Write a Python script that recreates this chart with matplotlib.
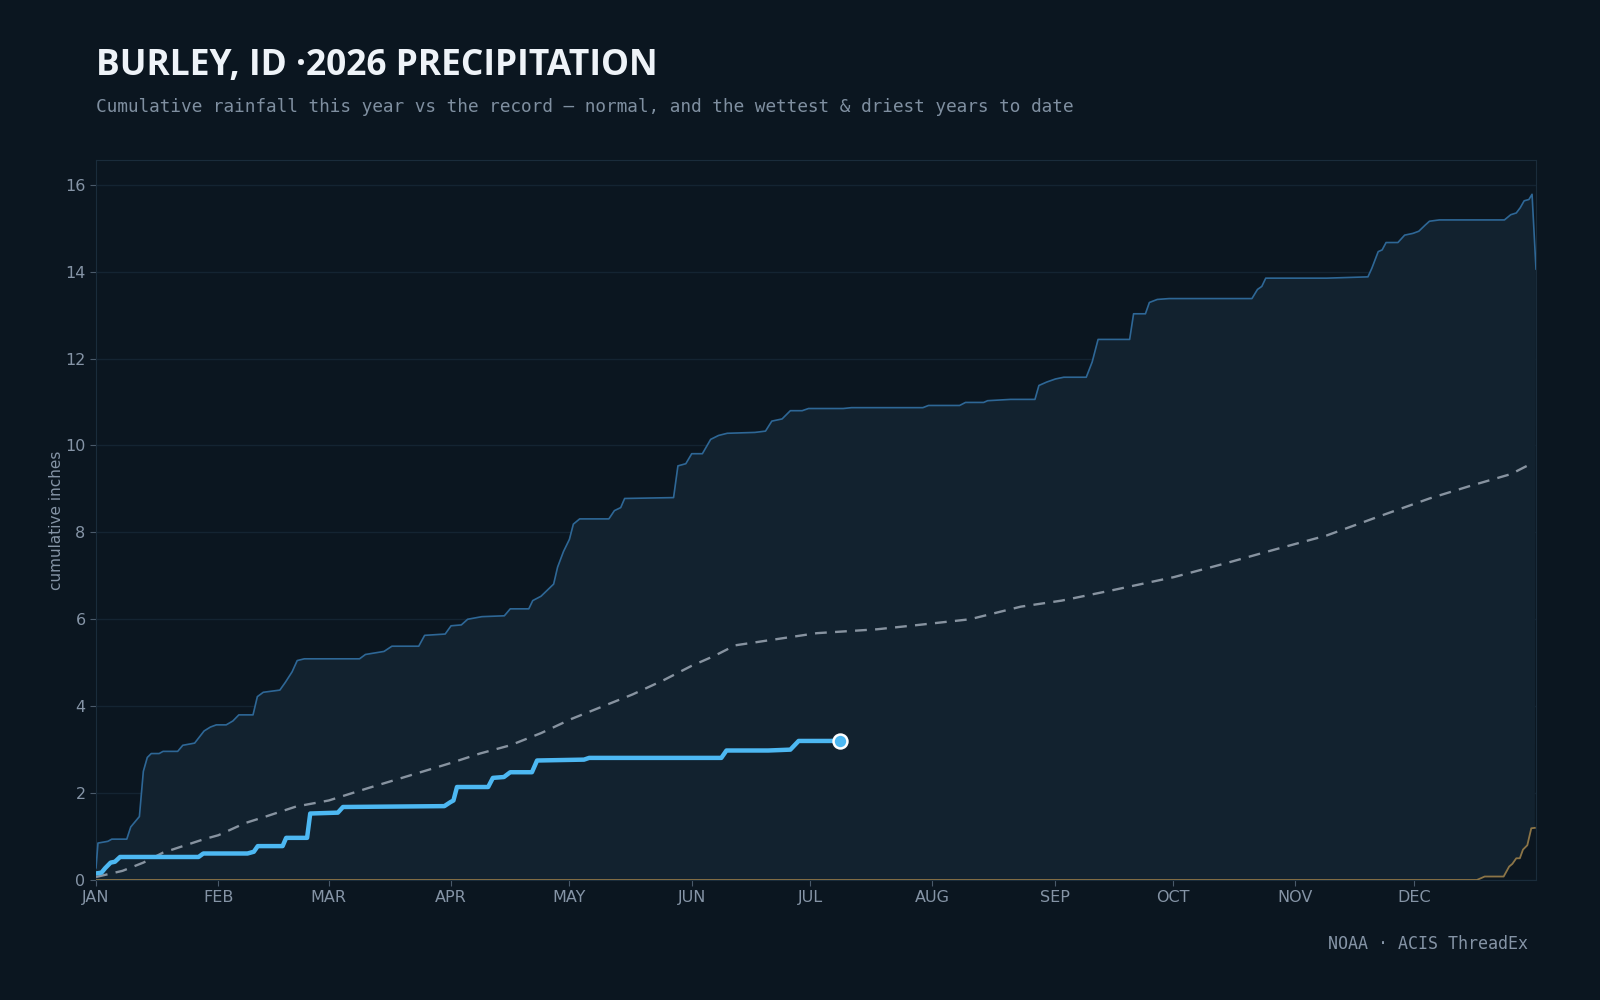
import matplotlib
matplotlib.use("Agg")
import matplotlib.pyplot as plt
import numpy as np

# day of year (0 = Jan 1) and cumulative inches
wet_day = [0, 0.5, 3, 4, 7.8, 8.8, 11, 12, 13, 14, 16, 17, 20.7, 22, 25, 27.4, 29, 30.5, 33, 34.7,
           36.2, 39.8, 40.9, 42.4, 46.6, 48, 49.7, 51, 52.8, 66.8, 68.3, 73, 75, 81.8, 83.3, 88.5,
           90, 92.6, 94.2, 97.8, 103.5, 105, 109.7, 110.7, 112.8, 114.4, 116, 117, 118.5, 120,
           121, 122.6, 130, 131.4, 133, 134, 146.4, 147.5, 149.5, 151, 153.7, 155.8, 157.8, 160,
           167, 169.7, 171.3, 173.9, 176, 179, 180.6, 189.4, 191.5, 209.6, 211, 218.9, 220.4, 225,
           226, 231.8, 238, 239, 241, 243.2, 245.3, 251, 252.5, 254, 262, 263, 266, 267, 269, 272,
           293, 294.4, 295.5, 296.5, 312, 322.4, 323.4, 325, 326, 327, 330, 331.7, 333.8, 335.3,
           336.9, 338, 340.5, 357, 358.6, 360, 361, 362, 363.2, 364, 365]
wet_val = [0.28, 0.85, 0.89, 0.94, 0.94, 1.22, 1.46, 2.5, 2.82, 2.91, 2.91, 2.96, 2.96, 3.1, 3.15,
           3.43, 3.52, 3.57, 3.57, 3.66, 3.8, 3.8, 4.22, 4.32, 4.37, 4.55, 4.79, 5.05, 5.09, 5.09,
           5.19, 5.26, 5.38, 5.38, 5.63, 5.66, 5.85, 5.87, 6.0, 6.06, 6.08, 6.24, 6.24, 6.43, 6.53,
           6.67, 6.81, 7.2, 7.56, 7.84, 8.19, 8.31, 8.31, 8.5, 8.57, 8.78, 8.8, 9.53, 9.58, 9.81,
           9.81, 10.14, 10.23, 10.28, 10.3, 10.33, 10.56, 10.61, 10.8, 10.8, 10.85, 10.85, 10.87,
           10.87, 10.92, 10.92, 10.99, 10.99, 11.03, 11.06, 11.06, 11.38, 11.46, 11.53, 11.57,
           11.57, 11.92, 12.44, 12.44, 13.03, 13.03, 13.29, 13.36, 13.38, 13.38, 13.59, 13.66,
           13.85, 13.85, 13.88, 14.08, 14.46, 14.5, 14.67, 14.67, 14.84, 14.88, 14.93, 15.07,
           15.16, 15.19, 15.19, 15.31, 15.35, 15.47, 15.63, 15.66, 15.78, 14.06]

normal_day = [0, 6.7, 12, 17, 27.4, 31, 37.8, 43, 50.7, 59, 68.8, 79, 89.5, 97.3, 105, 112.8,
              120.6, 128.3, 136, 143.9, 151, 156.8, 162, 172.3, 182.7, 198, 208.5, 221.5, 234.4,
              244.8, 257.7, 273.2, 286, 299, 312, 325, 338, 348, 358.6, 363.8]
normal_val = [0.07, 0.21, 0.4, 0.63, 0.94, 1.03, 1.31, 1.46, 1.69, 1.83, 2.11, 2.39, 2.68, 2.91,
              3.1, 3.38, 3.71, 3.99, 4.27, 4.6, 4.93, 5.16, 5.4, 5.54, 5.68, 5.77, 5.87, 6.0, 6.29,
              6.43, 6.67, 6.97, 7.28, 7.61, 7.93, 8.36, 8.78, 9.06, 9.34, 9.58]

dry_day = [0, 350, 352, 356.8, 358.2, 359, 360, 360.9, 361.7, 362.8, 363.8, 364.7]
dry_val = [0, 0, 0.08, 0.08, 0.31, 0.37, 0.5, 0.5, 0.7, 0.8, 1.19, 1.2]

ytd_day = [0, 1.4, 2.3, 3.7, 4.8, 6.1, 26, 27.2, 38.4, 40, 41, 47.3, 48.2, 53.5, 54.3, 61.3, 62.6,
           88.3, 89.8, 90.6, 91.5, 99.4, 100.6, 103.4, 105, 110.5, 111.8, 123.7, 125, 158.5, 159.8,
           170.4, 176, 178.1, 186.2, 188.5]
ytd_val = [0.15, 0.17, 0.27, 0.4, 0.42, 0.53, 0.53, 0.61, 0.61, 0.65, 0.78, 0.78, 0.97, 0.97,
           1.53, 1.55, 1.68, 1.70, 1.79, 1.83, 2.14, 2.14, 2.35, 2.37, 2.48, 2.48, 2.75, 2.77,
           2.81, 2.81, 2.98, 2.98, 3.0, 3.2, 3.2, 3.21]

month_start = [0, 31, 59, 90, 120, 151, 181, 212, 243, 273, 304, 334]
month_lbl = ["JAN", "FEB", "MAR", "APR", "MAY", "JUN", "JUL", "AUG", "SEP", "OCT", "NOV", "DEC"]

BG = "#0b1620"
FILL = "#12222f"
TXT = "#8594a6"

fig = plt.figure(figsize=(16, 10), dpi=100, facecolor=BG)
ax = fig.add_axes([0.06, 0.12, 0.9, 0.72], facecolor=BG)

# band between driest and wettest
ax.fill(wet_day + dry_day[::-1], wet_val + dry_val[::-1], color=FILL, lw=0, zorder=1)
ax.plot(wet_day, wet_val, color="#2e6796", lw=1.2, zorder=3)
ax.plot(dry_day, dry_val, color="#8c7547", lw=1.3, zorder=3)
ax.plot(normal_day, normal_val, color="#8793a0", lw=1.7, ls=(0, (5, 3.5)), zorder=4)
ax.plot(ytd_day, ytd_val, color="#4db8f2", lw=3.2, solid_capstyle="round", zorder=5)
ax.plot(ytd_day[-1], ytd_val[-1], "o", ms=10, mfc="#4db8f2", mec="white", mew=1.8, zorder=6)

ax.set_xlim(0, 365)
ax.set_ylim(0, max(wet_val) * 1.05)
ax.set_xticks(month_start)
ax.set_xticklabels(month_lbl)
ax.set_yticks(np.arange(0, 17, 2))
ax.grid(axis="y", color="#142432", lw=1, zorder=0)
ax.set_axisbelow(True)
for s in ax.spines.values():
    s.set_color("#1a2c3b")
ax.tick_params(colors="#4a5a6a", labelcolor=TXT, labelsize=11.5, length=4)
ax.set_ylabel("cumulative inches", color=TXT, fontsize=11, labelpad=1)

fig.text(0.06, 0.925, "BURLEY, ID \u00b72026 PRECIPITATION", color="#eef3f8",
         fontsize=25.5, fontweight="bold", family="Open Sans", va="baseline")
fig.text(0.06, 0.888, "Cumulative rainfall this year vs the record \u2014 normal, and the wettest & driest years to date",
         color="#7f8fa0", fontsize=12.8, family="DejaVu Sans Mono", va="baseline")
fig.text(0.955, 0.056, "NOAA \u00b7 ACIS ThreadEx", color="#8594a6", fontsize=12,
         family="DejaVu Sans Mono", ha="right", va="center")

fig.savefig("out.png", dpi=100, facecolor=BG)
